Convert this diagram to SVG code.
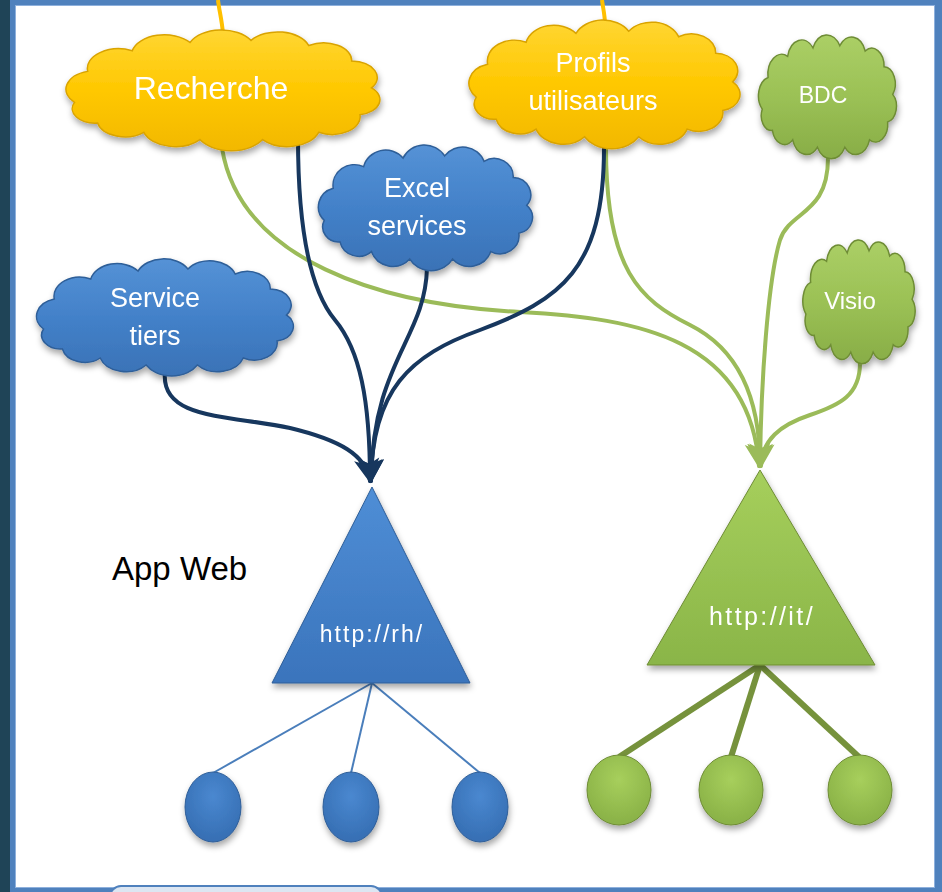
<svg xmlns="http://www.w3.org/2000/svg" xmlns:xlink="http://www.w3.org/1999/xlink" width="942" height="892" viewBox="0 0 942 892">
<style>
.txt{font-family:"Liberation Sans",Arial,sans-serif;fill:#ffffff;text-anchor:middle}
.yc{fill:url(#gYellow);stroke:#D9A300;stroke-width:1.5}
.bc{fill:url(#gBlue);stroke:#2E5E98;stroke-width:1.5}
.gc{fill:url(#gGreen);stroke:#6E8C35;stroke-width:1.5}
.navy{fill:none;stroke:#17375E;stroke-width:4;stroke-linecap:round}
.lime{fill:none;stroke:#9BBB59;stroke-width:4;stroke-linecap:round}
.gold{fill:none;stroke:#FFC000;stroke-width:4}
.shadow{filter:url(#sh)}
</style>
<defs>
<filter id="sh" x="-20%" y="-20%" width="140%" height="150%">
<feDropShadow dx="1" dy="4" stdDeviation="3" flood-color="#000" flood-opacity="0.35"/>
</filter>
<linearGradient id="gYellow" x1="0" y1="0" x2="0" y2="1">
<stop offset="0" stop-color="#FFD633"/><stop offset="0.5" stop-color="#FFC800"/><stop offset="1" stop-color="#F2B800"/>
</linearGradient>
<linearGradient id="gBlue" x1="0" y1="0" x2="0" y2="1">
<stop offset="0" stop-color="#5592D6"/><stop offset="0.5" stop-color="#4381C9"/><stop offset="1" stop-color="#3A72B6"/>
</linearGradient>
<linearGradient id="gGreen" x1="0" y1="0" x2="0" y2="1">
<stop offset="0" stop-color="#ABCF66"/><stop offset="0.5" stop-color="#9BC155"/><stop offset="1" stop-color="#88AD47"/>
</linearGradient>
<linearGradient id="gTriB" x1="0" y1="0" x2="0" y2="1">
<stop offset="0" stop-color="#4F8ED6"/><stop offset="1" stop-color="#3A74BC"/>
</linearGradient>
<linearGradient id="gTriG" x1="0" y1="0" x2="0" y2="1">
<stop offset="0" stop-color="#A6CF5C"/><stop offset="1" stop-color="#8AB548"/>
</linearGradient>
<radialGradient id="gEllB" cx="0.5" cy="0.35" r="0.6">
<stop offset="0" stop-color="#4A88D0"/><stop offset="1" stop-color="#3770B5"/>
</radialGradient>
<radialGradient id="gEllG" cx="0.5" cy="0.35" r="0.6">
<stop offset="0" stop-color="#A7CF5C"/><stop offset="1" stop-color="#8BB348"/>
</radialGradient>
<path id="cloud" vector-effect="non-scaling-stroke" d="M10,72 A18,18 0 0 1 18,42 A19,19 0 0 1 45,22 A20,20 0 0 1 80,14 A21,21 0 0 1 117,12 A20,20 0 0 1 152,17 A17,17 0 0 1 178,32 A16,16 0 0 1 190,58 A15,15 0 0 1 183,84 A17,17 0 0 1 158,101 A20,20 0 0 1 124,108 A22,22 0 0 1 86,108 A20,20 0 0 1 52,101 A17,17 0 0 1 24,92 A14,14 0 0 1 10,72 Z"/>
<marker id="arrNavy" markerUnits="userSpaceOnUse" markerWidth="30" markerHeight="30" viewBox="-22 -13 26 26" refX="0" refY="0" orient="auto">
<path d="M2,0 L-19,-11 L-14,0 L-19,11 Z" fill="#17375E"/>
</marker>
<marker id="arrLime" markerUnits="userSpaceOnUse" markerWidth="30" markerHeight="30" viewBox="-22 -13 26 26" refX="0" refY="0" orient="auto">
<path d="M2,0 L-19,-11 L-14,0 L-19,11 Z" fill="#9BBB59"/>
</marker>
</defs>

<g id="frame">
<rect x="0" y="0" width="942" height="892" fill="#4F81BD"/>
<rect x="0" y="0" width="10" height="892" fill="#1F4457"/>
<rect x="15.5" y="5.5" width="919" height="882" fill="#ffffff" stroke="#8EB0DC" stroke-width="1"/>
<rect x="110" y="886" width="272" height="24" rx="11" fill="#DCE6F2" stroke="#4F81BD" stroke-width="2"/>
</g>

<g id="connectors">
<path class="gold" d="M218,0 C219,10 222,20 223,34"/>
<path class="gold" d="M602,0 C603,8 605,16 605,24"/>
<path class="lime" d="M222,148 C240,260 380,305 520,312 C640,318 750,340 759,466" marker-end="url(#arrLime)"/>
<path class="lime" d="M606,148 C606,270 640,300 690,325 C740,350 760,400 760,466" marker-end="url(#arrLime)"/>
<path class="lime" d="M828,158 C828,215 790,210 780,240 C768,280 761,380 760,466" marker-end="url(#arrLime)"/>
<path class="lime" d="M860,363 C860,395 840,405 810,415 C780,425 762,440 761,466" marker-end="url(#arrLime)"/>
<path class="navy" d="M298,138 C298,230 310,290 335,320 C360,350 370,400 370,481" marker-end="url(#arrNavy)"/>
<path class="navy" d="M427,268 C425,340 373,360 371,481" marker-end="url(#arrNavy)"/>
<path class="navy" d="M604,148 C604,270 560,300 480,330 C410,355 372,390 371,481" marker-end="url(#arrNavy)"/>
<path class="navy" d="M165,372 C160,420 230,415 290,428 C340,440 366,455 370,481" marker-end="url(#arrNavy)"/>
<g stroke="#4A7EBB" stroke-width="2" fill="none">
<line x1="372" y1="683" x2="213" y2="773"/>
<line x1="372" y1="683" x2="351" y2="773"/>
<line x1="372" y1="683" x2="480" y2="773"/>
</g>
<g stroke="#76923C" stroke-width="6" fill="none">
<line x1="760" y1="665" x2="619" y2="757"/>
<line x1="760" y1="665" x2="731" y2="757"/>
<line x1="760" y1="665" x2="859" y2="757"/>
</g>
</g>

<g id="recherche" class="shadow">
<use xlink:href="#cloud" href="#cloud" class="yc" transform="translate(58,28) scale(1.65,1.033)"/>
<text class="txt" x="211" y="99" font-size="32">Recherche</text>
</g>
<g id="profils" class="shadow">
<use xlink:href="#cloud" href="#cloud" class="yc" transform="translate(462,18) scale(1.425,1.1)"/>
<text class="txt" x="593" y="72" font-size="27">Profils</text>
<text class="txt" x="593" y="110" font-size="27">utilisateurs</text>
</g>
<g id="bdc" class="shadow">
<use xlink:href="#cloud" href="#cloud" class="gc" transform="translate(755,33) scale(0.725,1.058)"/>
<text class="txt" x="823" y="103" font-size="23">BDC</text>
</g>
<g id="visio" class="shadow">
<use xlink:href="#cloud" href="#cloud" class="gc" transform="translate(800,238) scale(0.59,1.058)"/>
<text class="txt" x="850" y="309" font-size="24">Visio</text>
</g>
<g id="excel" class="shadow">
<use xlink:href="#cloud" href="#cloud" class="bc" transform="translate(313,143) scale(1.125,1.075)"/>
<text class="txt" x="417" y="197" font-size="27">Excel</text>
<text class="txt" x="417" y="235" font-size="27">services</text>
</g>
<g id="service-tiers" class="shadow">
<use xlink:href="#cloud" href="#cloud" class="bc" transform="translate(30,257) scale(1.35,1.0)"/>
<text class="txt" x="155" y="307" font-size="27">Service</text>
<text class="txt" x="155" y="345" font-size="27">tiers</text>
</g>

<g id="app-rh" class="shadow">
<polygon points="372,487 470,683 272,683" fill="url(#gTriB)" stroke="#2E5E98" stroke-width="1"/>
<text class="txt" x="372" y="642" font-size="23" letter-spacing="2">http://rh/</text>
</g>
<g id="app-it" class="shadow">
<polygon points="760,470 875,665 647,665" fill="url(#gTriG)" stroke="#6E8C35" stroke-width="1"/>
<text class="txt" x="762" y="625" font-size="25" letter-spacing="2.4">http://it/</text>
</g>

<g id="app-web-label">
<text x="112" y="580" font-family="Liberation Sans, Arial, sans-serif" font-size="33" fill="#000000">App Web</text>
</g>

<g id="rh-site1" class="shadow"><ellipse cx="213" cy="807" rx="28" ry="35" fill="url(#gEllB)" stroke="#2E5E98" stroke-width="1"/></g>
<g id="rh-site2" class="shadow"><ellipse cx="351" cy="807" rx="28" ry="35" fill="url(#gEllB)" stroke="#2E5E98" stroke-width="1"/></g>
<g id="rh-site3" class="shadow"><ellipse cx="480" cy="807" rx="28" ry="35" fill="url(#gEllB)" stroke="#2E5E98" stroke-width="1"/></g>
<g id="it-site1" class="shadow"><ellipse cx="619" cy="790" rx="32" ry="35" fill="url(#gEllG)" stroke="#6E8C35" stroke-width="1"/></g>
<g id="it-site2" class="shadow"><ellipse cx="731" cy="790" rx="32" ry="35" fill="url(#gEllG)" stroke="#6E8C35" stroke-width="1"/></g>
<g id="it-site3" class="shadow"><ellipse cx="860" cy="790" rx="32" ry="35" fill="url(#gEllG)" stroke="#6E8C35" stroke-width="1"/></g>
</svg>
